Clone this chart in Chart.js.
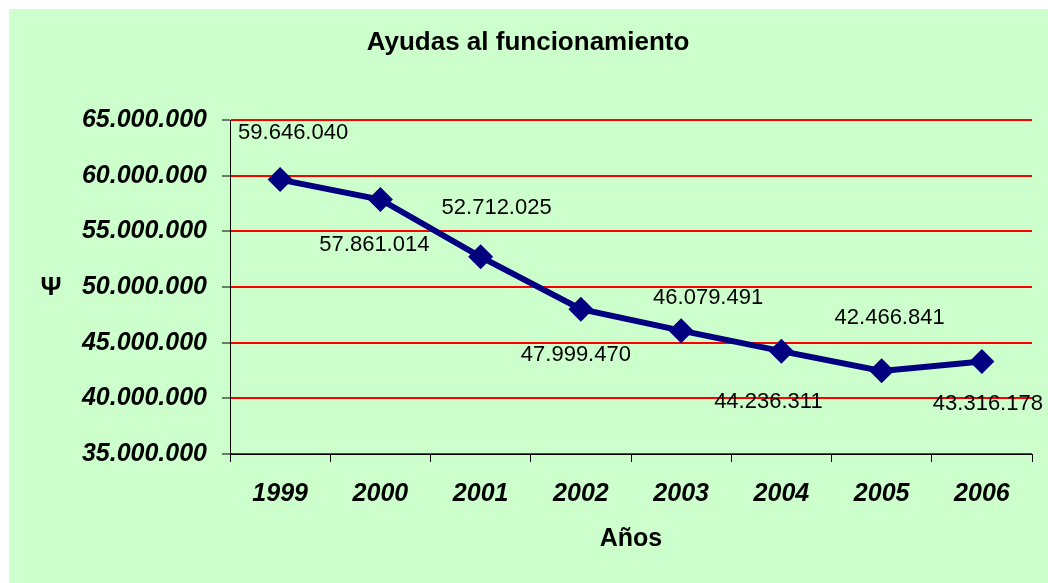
<!DOCTYPE html>
<html><head><meta charset="utf-8">
<script src="https://cdn.jsdelivr.net/npm/chart.js@4/dist/chart.umd.min.js"></script>
<style>
html,body{margin:0;padding:0;background:#fff;width:1048px;height:583px;overflow:hidden}
#bg{position:absolute;left:9px;top:9px;width:1039px;height:574px;background:#CCFFCC}
#wrap{position:absolute;left:0;top:0;width:1048px;height:583px}
</style></head><body>
<div id="bg"></div>
<div id="wrap"><canvas id="c" width="1048" height="583"></canvas></div>
<script>
const years = ['1999', '2000', '2001', '2002', '2003', '2004', '2005', '2006'];
const values = [59646040, 57861014, 52712025, 47999470, 46079491, 44236311, 42466841, 43316178];
const yMin = 35000000;
const yMax = 65000000;
const yStep = 5000000;
const chartTitle = 'Ayudas al funcionamiento';
const xTitle = 'Años';
const yTitle = 'Ψ';

const FONT = '"Liberation Sans", Arial, sans-serif';
const fmt = v => Math.round(v).toString().replace(/\B(?=(\d{3})+(?!\d))/g, '.');

// label offsets (style only)
const labelOffsets = [[13,-47],[-6,45],[16,-49],[-5,46],[27,-33],[-13,51],[8,-53],[6,43]];

const dataLabels = {
  id: 'dataLabels',
  afterDatasetsDraw(chart) {
    const ctx = chart.ctx;
    const meta = chart.getDatasetMeta(0);
    ctx.save();
    ctx.font = '22px ' + FONT;
    ctx.fillStyle = '#000';
    ctx.textAlign = 'center';
    ctx.textBaseline = 'middle';
    meta.data.forEach((pt, i) => {
      const o = labelOffsets[i];
      ctx.fillText(fmt(chart.data.datasets[0].data[i]), pt.x + o[0], pt.y + o[1]);
    });
    ctx.restore();
  }
};
const textPlugin = {
  id: 'textPlugin',
  afterDraw(chart) {
    const ctx = chart.ctx;
    const a = chart.chartArea;
    ctx.save();
    ctx.fillStyle = '#000';
    ctx.textAlign = 'center';
    ctx.textBaseline = 'middle';
    ctx.font = 'bold 26px ' + FONT;
    ctx.fillText(yTitle, 51, (a.top + a.bottom) / 2 + 1);
    ctx.font = 'bold 26px ' + FONT;
    ctx.fillText(chartTitle, 528, 43);
    ctx.restore();
  }
};

new Chart(document.getElementById('c'), {
  type: 'line',
  data: {
    labels: years,
    datasets: [{
      data: values,
      borderColor: '#000080',
      backgroundColor: '#000080',
      borderWidth: 6,
      pointStyle: 'rectRot',
      pointRadius: 12.5,
      pointHoverRadius: 12.5,
      pointBackgroundColor: '#000080',
      pointBorderColor: '#000080',
      pointBorderWidth: 0,
      tension: 0,
      fill: false
    }]
  },
  options: {
    responsive: false,
    animation: false,
    events: [],
    layout: { padding: { left: 0, right: 16, top: 120, bottom: 0 } },
    plugins: {
      legend: { display: false },
      tooltip: { enabled: false },
      title: { display: false }
    },
    scales: {
      x: {
        offset: true,
        grid: { display: true, offset: true, drawOnChartArea: false, drawTicks: true, tickLength: 8, tickColor: '#000', tickWidth: 1 },
        border: { display: true, color: '#000', width: 1 },
        ticks: { color: '#000', padding: 17, maxRotation: 0, autoSkip: false, font: { family: FONT, size: 25, weight: 'bold', style: 'italic' } },
        title: { display: true, text: xTitle, color: '#000', font: { family: FONT, size: 25, weight: 'bold' }, padding: { top: 0, bottom: 29 } },
        afterFit(s) { s.height = 129; }
      },
      y: {
        min: yMin,
        max: yMax,
        grid: { color: '#FF0000', lineWidth: 2, tickLength: 8, tickColor: '#000', tickWidth: 1 },
        border: { display: true, color: '#000', width: 1 },
        ticks: { stepSize: yStep, color: '#000', padding: 15, font: { family: FONT, size: 25, weight: 'bold', style: 'italic' }, callback: v => fmt(v) },
        afterFit(s) { s.width = 230; }
      }
    }
  },
  plugins: [dataLabels, textPlugin]
});
</script>
</body></html>
